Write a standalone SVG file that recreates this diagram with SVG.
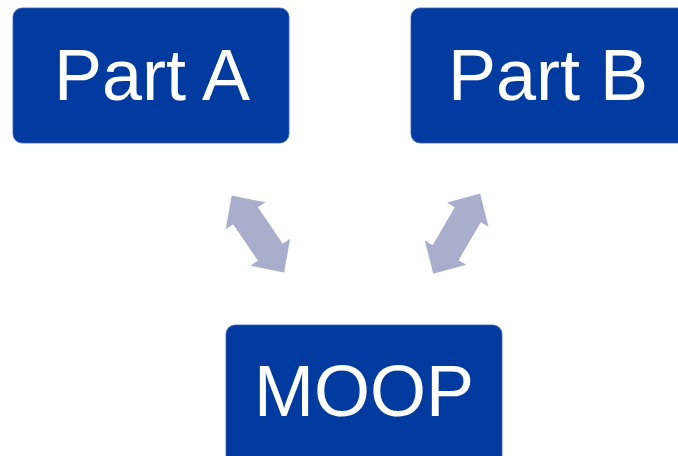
<svg xmlns="http://www.w3.org/2000/svg" width="678" height="456" viewBox="0 0 678 456">
  <style>
    .box { fill: #023ba0; stroke: #3a63b4; stroke-width: 0.8; }
    .label { font-family: "Liberation Sans", Arial, sans-serif; font-size: 72px; fill: #ffffff; text-anchor: middle; }
    .dbl { fill: #a9aecd; }
  </style>
  <defs>
    <!-- double-headed block arrow, centred on the origin along x -->
    <polygon id="dblArrow" points="-46.5,0 -22,-24 -22,-15 22,-15 22,-24 46.5,0 22,24 22,15 -22,15 -22,24"/>
  </defs>

  <g id="partA">
    <rect class="box" x="13" y="8" width="276" height="135" rx="9"/>
    <text class="label" x="152" y="99.5">Part A</text>
  </g>

  <g id="partB">
    <rect class="box" x="411" y="8" width="280" height="135" rx="9"/>
    <text class="label" x="548" y="99.5">Part B</text>
  </g>

  <g id="moop">
    <rect class="box" x="226" y="325" width="276" height="145" rx="9"/>
    <text class="label" x="364" y="416">MOOP</text>
  </g>

  <g id="connectors">
    <use href="#dblArrow" class="dbl" transform="translate(257.9,234) rotate(55.7)"/>
    <use href="#dblArrow" class="dbl" transform="translate(456.7,233.7) rotate(120.3)"/>
  </g>
</svg>
